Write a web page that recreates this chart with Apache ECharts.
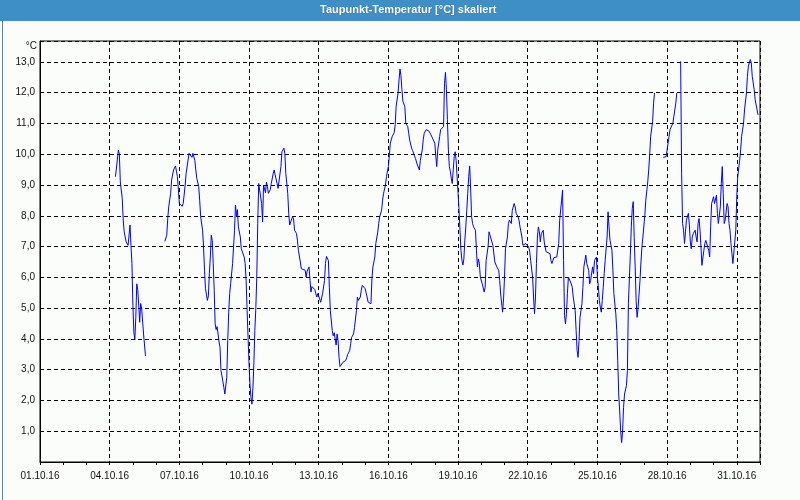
<!DOCTYPE html>
<html>
<head>
<meta charset="utf-8">
<script src="https://cdn.jsdelivr.net/npm/echarts@6/dist/echarts.min.js"></script>
<style>
html,body{margin:0;padding:0;background:#fbfdfb;}
#chart{width:800px;height:500px;}
</style>
</head>
<body>
<div id="chart"></div>
<script>
// Hours since 01.10.16 00:00 (null value = gap in the record)
const hours = [
78,81,82,83,85,86,87,89,91,93,94,95,96,97,98,99,100,101,102,103,104,105,107,109,110,
129,131,132,133,135,136,138,140,141,142,143,144,146,147,148,150,151,153,154,155,157,158,160,161,162,164,165,166,168,169,170,171,173,174,175,176,177,178,179,180,181,182,183,184,185,186,187,188,190,191,193,194,195,196,197,199,200,201,202,203,204,205,207,208,210,211,212,213,214,215,216,217,218,219,220,221,222,223,224,225,226,227,229,230,231,232,233,234,235,236,238,239,241,242,243,245,246,248,249,250,252,253,254,256,257,258,259,261,262,263,265,266,267,269,270,272,274,275,276,278,279,280,281,283,284,285,286,287,289,290,291,292,294,295,296,298,299,300,302,303,304,305,306,307,308,309,310,312,313,314,316,317,318,320,321,322,324,325,327,328,329,331,332,333,335,336,338,339,340,342,343,344,346,347,349,350,351,353,354,355,357,358,360,361,362,364,366,367,368,370,371,372,373,374,375,377,378,380,381,382,384,385,387,388,390,392,393,395,396,397,399,400,402,403,404,406,408,409,410,411,413,414,416,417,418,419,420,421,422,423,424,425,426,427,428,429,430,431,432,433,434,435,436,437,438,439,440,441,442,443,444,445,446,447,448,450,451,452,453,454,455,457,459,460,461,463,464,465,467,468,470,471,472,474,475,476,478,479,480,481,483,484,485,487,488,490,491,492,494,495,496,498,499,501,502,503,505,506,507,509,510,511,512,513,514,515,516,517,518,520,521,523,525,527,528,529,530,531,533,534,535,536,537,539,540,541,542,543,544,545,546,547,549,550,551,553,554,555,556,557,558,560,561,562,564,565,567,568,569,571,572,573,575,576,577,578,579,580,581,582,583,584,586,587,588,589,591,592,593,595,596,597,598,599,600,601,602,603,604,606,607,608,610,611,612,613,614,615,616,617,618,620,621,622,623,625,626,628,629,630,631,633,634,635,636,
644,647,648,650,651,652,654,655,657,658,660,
662,663,664,665,666,667,668,670,671,672,673,674,675,677,678,679,680,681,682,683,684,686,687,688,690,691,692,693,694,696,697,699,700,701,703,704,705,706,707,708,710,711,712,713,714,715,716,718,719,720,721,723,724,725,727,728,730,731,732,734,735,736,738,739,741,742
];
// Dew point temperature (°C)
const dewPoint = [
9.27,10.14,10.0,9.1,8.56,7.86,7.48,7.15,7.04,7.7,7.04,6.45,5.09,4.22,3.97,4.7,5.79,5.6,5.1,4.54,5.15,5.0,4.16,3.45,null,
7.17,7.37,7.91,8.29,8.73,9.16,9.49,9.62,9.45,9.27,8.84,8.4,8.45,8.31,8.4,9.0,9.38,9.81,10.03,10.05,9.9,10.03,9.8,9.49,9.22,8.95,8.51,7.97,7.53,6.99,6.23,5.63,5.25,5.4,6.12,6.66,7.37,7.2,6.45,5.58,4.49,4.3,4.4,4.16,3.9,3.73,2.97,2.8,2.42,2.21,2.75,3.95,4.87,5.47,5.79,6.45,6.99,7.53,8.35,8.0,8.2,7.64,7.31,6.93,6.9,6.66,6.45,5.9,4.92,4.05,3.19,2.5,2.1,1.88,2.4,3.19,4.27,4.98,6.01,7.75,9.05,9.0,8.4,7.8,9.0,9.0,8.75,9.1,8.95,8.73,8.85,9.05,9.38,9.49,9.33,9.05,8.89,8.83,9.6,10.08,10.2,10.03,9.38,8.73,8.08,7.7,7.8,7.97,7.9,7.53,7.43,7.21,6.88,6.5,6.28,6.28,6.23,6.01,6.2,6.34,5.9,5.52,5.7,5.7,5.6,5.47,5.36,5.47,5.3,5.19,5.14,5.47,5.9,6.45,6.68,6.55,5.68,4.92,4.27,4.1,4.2,4.0,3.8,4.16,3.95,3.4,3.1,3.1,3.24,3.2,3.3,3.4,3.5,3.62,3.84,4.05,4.16,4.38,4.92,5.36,5.25,5.36,5.58,5.74,5.79,5.63,5.36,5.2,5.14,5.14,5.95,6.34,6.66,7.1,7.47,7.75,7.97,8.18,8.51,8.73,9.0,9.27,9.6,9.98,10.36,10.58,10.7,10.96,11.55,11.99,12.42,12.77,12.55,12.1,11.72,11.55,11.0,10.9,10.68,10.46,10.2,10.12,10.08,9.86,9.65,9.49,9.8,10.14,10.47,10.68,10.8,10.85,10.75,10.8,10.63,10.63,10.36,9.92,9.6,10.14,10.58,10.8,10.8,10.9,12.3,12.66,12.1,11.12,10.14,9.6,9.45,9.22,9.05,9.49,9.92,10.08,9.8,9.27,8.73,8.18,7.53,6.88,6.55,6.4,6.6,7.21,7.64,8.18,8.73,9.27,9.62,8.87,7.97,7.75,7.64,7.53,6.88,6.34,6.6,6.45,6.01,5.79,5.52,5.68,6.55,6.99,7.48,7.37,7.31,7.04,6.5,6.45,6.34,6.23,5.9,5.46,4.87,5.3,6.01,6.93,7.31,7.75,7.86,7.75,8.18,8.4,8.29,8.08,7.97,7.86,7.64,7.31,7.04,7.04,7.1,7.15,6.99,6.83,6.55,6.01,5.36,4.82,5.36,6.45,7.31,7.64,7.48,7.15,7.42,7.53,7.15,6.83,6.83,6.77,6.55,6.45,6.55,6.64,6.6,6.66,6.72,7.1,7.86,8.51,8.84,6.55,4.76,4.49,4.82,5.47,6.01,5.95,5.79,5.68,5.36,4.92,4.27,3.62,3.4,3.95,4.7,5.14,5.68,6.34,6.72,6.45,6.23,5.79,5.9,6.34,6.12,6.55,6.66,6.01,5.68,5.25,5.03,4.87,5.25,5.68,6.12,6.55,7.31,8.13,7.64,7.2,6.88,6.23,5.47,4.82,4.27,3.29,2.21,1.66,1.01,0.63,1.0,1.77,2.21,2.48,2.97,5.14,6.72,7.64,8.24,8.46,7.3,6.34,5.25,4.7,5.0,5.9,6.5,6.99,7.31,8.02,8.51,9.1,9.49,9.98,10.58,11.06,11.66,11.99,null,
9.9,9.92,10.14,10.58,10.8,10.85,11.01,11.23,11.66,11.99,null,
13.02,9.38,7.75,7.53,7.1,7.48,7.86,8.08,7.7,7.15,6.93,7.31,7.42,7.53,7.31,7.15,7.75,7.91,7.53,6.99,6.39,6.88,7.1,7.2,7.26,6.88,6.66,7.64,8.4,8.62,8.4,8.67,8.08,7.75,8.29,9.05,9.6,8.73,7.75,7.86,8.4,8.29,7.75,7.53,7.1,6.77,6.45,6.39,7.53,8.62,9.27,9.81,10.14,10.58,11.01,11.44,11.99,12.53,12.86,13.08,12.97,12.53,12.1,11.77,11.44,11.28
];
const titleText = 'Taupunkt-Temperatur [°C] skaliert';
const yUnit = '°C';
const monthStart = new Date(2016, 9, 1);
const totalHours = 744;

function dateLabel(h) {
  const d = new Date(monthStart.getTime() + h * 3600000);
  const p = n => String(n).padStart(2, '0');
  return p(d.getDate()) + '.' + p(d.getMonth() + 1) + '.' + String(d.getFullYear()).slice(2);
}

const seriesData = hours.map((h, i) => [h, dewPoint[i] === null ? '-' : dewPoint[i]]);
const labelFont = 'Liberation Sans';

const chart = echarts.init(document.getElementById('chart'), null, {renderer: 'canvas'});
chart.setOption({
  animation: false,
  backgroundColor: '#fbfdfb',
  graphic: [
    {type: 'rect', left: 0, top: 0, shape: {width: 800, height: 21}, style: {fill: '#3d8fc6'}, z: 0},
    {type: 'rect', left: 0, top: 0, shape: {width: 799, height: 499}, style: {fill: null, stroke: '#3d8fc6', lineWidth: 1}, z: 0},
    {type: 'text', left: 320, top: 4,
     style: {text: titleText, fill: '#ffffff', font: 'bold 11px "Liberation Sans"', textShadowColor: 'rgba(0,0,0,0.35)', textShadowBlur: 1}, z: 10}
  ],
  grid: {left: 40, top: 41, right: 40, bottom: 38, show: true, borderColor: '#000', borderWidth: 1, backgroundColor: 'transparent'},
  xAxis: [{
    type: 'value', min: 0, max: totalHours, interval: 72,
    axisLine: {show: true, lineStyle: {color: '#000', width: 1}},
    axisTick: {show: false},
    axisLabel: {
      formatter: v => dateLabel(v), showMaxLabel: false, showMinLabel: true,
      color: '#111', fontFamily: labelFont, fontSize: 10, margin: 9
    },
    splitLine: {show: true, lineStyle: {color: '#000', type: [4, 3], width: 1}}
  }, {
    type: 'value', min: 0, max: totalHours, interval: 24, position: 'bottom',
    axisLine: {show: false},
    axisTick: {show: true, length: 3, lineStyle: {color: '#000'}},
    axisLabel: {show: false},
    splitLine: {show: false}
  }],
  yAxis: {
    type: 'value', min: 0, max: 13.68, interval: 1,
    name: yUnit, nameLocation: 'end', nameGap: 0,
    nameTextStyle: {align: 'right', verticalAlign: 'top', padding: [0, 3, 0, 0], color: '#111', fontFamily: labelFont, fontSize: 10},
    axisLine: {show: true, lineStyle: {color: '#000', width: 1}},
    axisTick: {show: false},
    axisLabel: {
      formatter: v => v.toFixed(1).replace('.', ','), showMinLabel: false, showMaxLabel: false,
      color: '#111', fontFamily: labelFont, fontSize: 10, margin: 5
    },
    splitLine: {show: true, lineStyle: {color: '#000', type: [4, 3], width: 1}}
  },
  series: [{
    type: 'line', xAxisIndex: 0, data: seriesData, showSymbol: false, connectNulls: false,
    lineStyle: {color: '#0000ff', width: 1}, itemStyle: {color: '#0000ff'}, z: 5
  }]
});
</script>
</body>
</html>
